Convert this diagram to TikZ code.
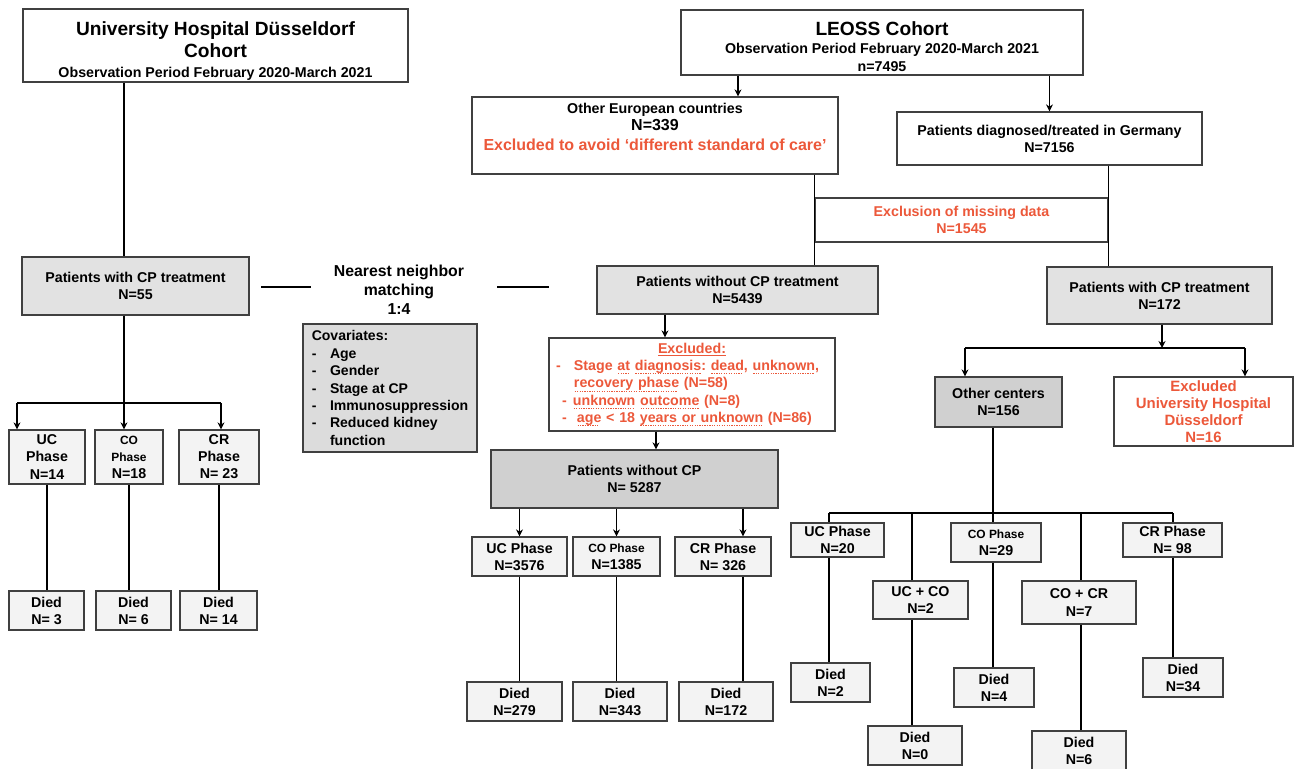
\documentclass[tikz,border=0pt]{standalone}
\usepackage{fontspec}
\setmainfont{Liberation Sans}
\usepackage{tikz}
\usetikzlibrary{arrows.meta,positioning,calc}
\definecolor{boxline}{RGB}{64,64,64}
\definecolor{phasefill}{RGB}{243,243,243}
\definecolor{cpfill}{RGB}{226,226,226}
\definecolor{darkfill}{RGB}{208,208,208}
\definecolor{covfill}{RGB}{220,220,220}
\definecolor{exred}{RGB}{236,88,58}
\newcommand{\ttlfont}{\fontsize{10.9}{12.5}\selectfont}
\newcommand{\obsfont}{\fontsize{8.1}{11}\selectfont}
\newcommand{\bigN}{\fontsize{9.1}{10.5}\selectfont}
\newcommand{\cofont}{\fontsize{6.8}{9}\selectfont}
\newcommand{\dsh}{\makebox[1.3em][l]{-}}
% dotted underline
\newsavebox{\dotbox}
\newcommand{\dotu}[1]{\sbox{\dotbox}{#1}\leavevmode\rlap{\raisebox{-2pt}{\hbox to \wd\dotbox{\leaders\hbox to 1.4pt{\hss\rule{0.7pt}{0.5pt}\hss}\hfill}}}\usebox{\dotbox}}
\frenchspacing

\begin{document}
\begin{tikzpicture}[x=0.02cm, y=-0.02cm,
  wbox/.style={rectangle, draw=boxline, line width=0.7pt, fill=white,
               align=center, inner sep=1pt,
               font=\bfseries\fontsize{8.1}{9.7}\selectfont},
  pbox/.style={wbox, fill=phasefill},
  cbox/.style={wbox, fill=cpfill},
  dbox/.style={wbox, fill=darkfill},
  rtext/.style={text=exred},
  link/.style={line width=0.85pt},
  arr/.style={link, -{Stealth[length=4pt, width=4pt]}}
]
\path[use as bounding box, fill=white] (0,0) rectangle (1298,768);

% Duesseldorf cohort
\node[wbox, minimum width=7.70cm, minimum height=1.42cm] (udt) at (215.5,45.5)
  {\ttlfont\rule{0pt}{14pt}University Hospital Düsseldorf\\[1.5pt]\ttlfont Cohort\\[1.5pt]\obsfont Observation Period February 2020-March 2021};
\node[cbox, minimum width=4.54cm, minimum height=1.16cm] (ucp) at (135.5,286) {Patients with CP treatment\\N=55};
\node[pbox, minimum width=1.52cm, minimum height=1.08cm] (uc1) at (47,457) {UC\\Phase\\N=14};
\node[pbox, minimum width=1.36cm, minimum height=1.08cm] (co1) at (129,457) {\cofont CO\\\cofont Phase\\N=18};
\node[pbox, minimum width=1.60cm, minimum height=1.08cm] (cr1) at (219,457) {CR\\Phase\\N= 23};
\node[pbox, minimum width=1.50cm, minimum height=0.78cm] (d1) at (46.5,610.5) {Died\\N= 3};
\node[pbox, minimum width=1.50cm, minimum height=0.78cm] (d2) at (133.5,610.5) {Died\\N= 6};
\node[pbox, minimum width=1.54cm, minimum height=0.78cm] (d3) at (218.5,610.5) {Died\\N= 14};

% Matching
\node[font=\bfseries\fontsize{9}{10.8}\selectfont, align=center] (nnm) at (399,290) {Nearest neighbor\\matching\\1:4};
\node[wbox, fill=covfill, align=left, minimum width=3.48cm, minimum height=2.56cm,
      font=\bfseries\fontsize{8}{9.9}\selectfont] (cov) at (390,388)
  {Covariates:\\\dsh Age\\\dsh Gender\\\dsh Stage at CP\\\dsh Immunosuppression\\\dsh Reduced kidney\\\hspace*{1.3em}function};

% LEOSS cohort
\node[wbox, minimum width=8.04cm, minimum height=1.30cm] (lst) at (882,42.5)
  {\ttlfont\rule{0pt}{12.5pt}LEOSS Cohort\\[1pt]\obsfont Observation Period February 2020-March 2021\\[0.5pt]\obsfont n=7495};
\node[wbox, minimum width=7.32cm, minimum height=1.54cm] (oeu) at (655,135.5)
  {Other European countries\\\bigN N=339\\[1.5pt]\bigN\color{exred}Excluded to avoid ‘different standard of care’\\\mbox{}};
\node[wbox, minimum width=6.10cm, minimum height=1.06cm] (ger) at (1049.5,138.5) {Patients diagnosed/treated in Germany\\N=7156};
\node[wbox, rtext, minimum width=5.86cm, minimum height=0.88cm] (mis) at (961.5,220) {Exclusion of missing data\\N=1545};
\node[cbox, minimum width=5.62cm, minimum height=0.96cm] (ncp) at (737.5,290) {Patients without CP treatment\\N=5439};
\node[cbox, minimum width=4.50cm, minimum height=1.14cm] (wcp) at (1159.5,295.5) {Patients with CP treatment\\N=172};

% Patients without CP
\node[wbox, rtext, align=left, text width=5.44cm, minimum height=1.86cm, inner xsep=0.14cm,
      font=\bfseries\fontsize{8.1}{9.9}\selectfont] (exc) at (692,384.5)
  {\hspace*{\fill}\underline{Excluded:}\hspace*{\fill}\mbox{}\\
   \makebox[1.26em][l]{-}Stage \dotu{at} \dotu{diagnosis}: \dotu{dead}, \dotu{unknown},\\
   \hspace*{1.26em}\dotu{recovery phase} (N=58)\\
   \hspace*{0.42em}\makebox[0.77em][l]{-}\dotu{unknown} \dotu{outcome} (N=8)\\
   \hspace*{0.42em}\makebox[1.05em][l]{-}\dotu{age} < 18 \dotu{years or unknown} (N=86)};
\node[dbox, minimum width=5.74cm, minimum height=1.16cm] (ncp2) at (634.5,479) {Patients without CP\\N= 5287};
\node[pbox, minimum width=1.90cm, minimum height=0.78cm] (uc2) at (519.5,556.5) {UC Phase\\N=3576};
\node[pbox, minimum width=1.74cm, minimum height=0.78cm] (co2) at (616.5,556.5) {\cofont CO Phase\\N=1385};
\node[pbox, minimum width=1.92cm, minimum height=0.78cm] (cr2) at (723,556.5) {CR Phase\\N= 326};
\node[pbox, minimum width=1.90cm, minimum height=0.78cm] (d4) at (514.5,701.5) {Died\\N=279};
\node[pbox, minimum width=1.88cm, minimum height=0.78cm] (d5) at (620,701.5) {Died\\N=343};
\node[pbox, minimum width=1.88cm, minimum height=0.78cm] (d6) at (726,701.5) {Died\\N=172};

% Patients with CP
\node[dbox, minimum width=2.54cm, minimum height=1.00cm] (oc) at (998.5,402) {Other centers\\N=156};
\node[wbox, rtext, font=\bfseries\fontsize{8.5}{9.7}\selectfont, minimum width=3.58cm, minimum height=1.38cm] (exuh) at (1203.5,411.5)
  {Excluded\\University Hospital\\Düsseldorf\\N=16};
\node[pbox, minimum width=1.86cm, minimum height=0.68cm] (uc3) at (837.5,540) {UC Phase\\N=20};
\node[pbox, minimum width=1.80cm, minimum height=0.78cm] (co3) at (996,542.5) {\cofont CO Phase\\N=29};
\node[pbox, minimum width=1.98cm, minimum height=0.68cm] (cr3) at (1172.5,540) {CR Phase\\N= 98};
\node[pbox, minimum width=1.90cm, minimum height=0.76cm] (ucco) at (920.5,600) {UC + CO\\N=2};
\node[pbox, minimum width=2.28cm, minimum height=0.86cm] (cocr) at (1079,602.5) {CO + CR\\N=7};
\node[pbox, minimum width=1.58cm, minimum height=0.78cm] (d7) at (830.5,682.5) {Died\\N=2};
\node[pbox, minimum width=1.88cm, minimum height=0.78cm] (d8) at (915,745.5) {Died\\N=0};
\node[pbox, minimum width=1.60cm, minimum height=0.78cm] (d9) at (994,687.5) {Died\\N=4};
\node[pbox, minimum width=1.88cm, minimum height=0.78cm] (d10) at (1079,750.5) {Died\\N=6};
\node[pbox, minimum width=1.60cm, minimum height=0.78cm] (d11) at (1183,677.5) {Died\\N=34};

% Junctions
\coordinate (lj) at (124,403);
\coordinate (ljl) at (17,403);
\coordinate (ljr) at (221,403);
\coordinate (ml1) at (261,287);
\coordinate (ml2) at (311,287);
\coordinate (mr1) at (497,287);
\coordinate (mr2) at (549,287);
\coordinate (la) at (738,0);
\coordinate (nb) at (665,0);
\coordinate (eb) at (656,0);
\coordinate (crx) at (743,0);
\coordinate (rj) at (1162,348);
\coordinate (rjl) at (965,348);
\coordinate (rjr) at (1245,348);
\coordinate (ob) at (993,513);
\coordinate (obl) at (829,513);
\coordinate (obu) at (912,513);
\coordinate (obc) at (1081,513);
\coordinate (obr) at (1173,513);

% Arrows, left
\draw[link] (udt.south -| lj) -- (ucp.north -| lj);
\draw[link] (ucp.south -| lj) -- (lj);
\draw[link] (ljl) -- (ljr);
\draw[arr] (ljl) -- (ljl |- uc1.north);
\draw[arr] (lj) -- (lj |- co1.north);
\draw[arr] (ljr) -- (ljr |- cr1.north);
\draw[link] (uc1.south) -- (uc1.south |- d1.north);
\draw[link] (co1.south) -- (co1.south |- d2.north);
\draw[link] (cr1.south) -- (cr1.south |- d3.north);
\draw[link] (ml1) -- (ml2);
\draw[link] (mr1) -- (mr2);

% Arrows, LEOSS
\draw[arr] (la |- lst.south) -- (la |- oeu.north);
\draw[arr] (lst.south -| ger.north) -- (ger.north);
\draw[link] (mis.west |- oeu.south) -- (mis.west |- ncp.north);
\draw[link] (mis.east |- ger.south) -- (mis.east |- wcp.north);
\draw[arr] (nb |- ncp.south) -- (nb |- exc.north);
\draw[arr] (eb |- exc.south) -- (eb |- ncp2.north);
\draw[arr] (uc2.north |- ncp2.south) -- (uc2.north);
\draw[arr] (co2.north |- ncp2.south) -- (co2.north);
\draw[arr] (crx |- ncp2.south) -- (crx |- cr2.north);
\draw[link] (uc2.south) -- (uc2.south |- d4.north);
\draw[link] (co2.south) -- (co2.south |- d5.north);
\draw[link] (crx |- cr2.south) -- (crx |- d6.north);

% Arrows, with CP
\draw[arr] (wcp.south -| rj) -- (rj);
\draw[link] (rjl) -- (rjr);
\draw[arr] (rjl) -- (rjl |- oc.north);
\draw[arr] (rjr) -- (rjr |- exuh.north);
\draw[link] (oc.south -| ob) -- (ob);
\draw[link] (obl) -- (obr);
\draw[link] (obl) -- (obl |- uc3.north);
\draw[link] (obu) -- (obu |- ucco.north);
\draw[link] (ob) -- (ob |- co3.north);
\draw[link] (obc) -- (obc |- cocr.north);
\draw[link] (obr) -- (obr |- cr3.north);
\draw[link] (obl |- uc3.south) -- (obl |- d7.north);
\draw[link] (obu |- ucco.south) -- (obu |- d8.north);
\draw[link] (ob |- co3.south) -- (ob |- d9.north);
\draw[link] (obc |- cocr.south) -- (obc |- d10.north);
\draw[link] (obr |- cr3.south) -- (obr |- d11.north);
\end{tikzpicture}
\end{document}
